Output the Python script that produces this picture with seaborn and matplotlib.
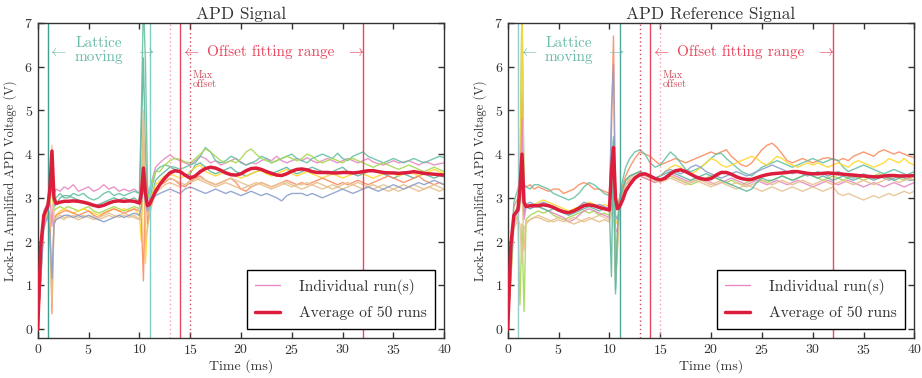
import numpy as np
import pandas as pd
import matplotlib
matplotlib.use("Agg")
import matplotlib.pyplot as plt
from matplotlib.lines import Line2D
import seaborn as sns

# ---------------- data ----------------
t = [0, 0.3, 0.6, 1.0, 1.2, 1.4, 1.6, 1.8, 2.2, 2.6,
     3, 3.5, 4, 4.5, 5, 5.5, 6, 6.5, 7, 7.5, 8, 8.5, 9, 9.5, 10,
     10.2, 10.4, 10.6, 10.8, 11, 11.3, 11.6,
     12, 12.5, 13, 13.5, 14, 14.5, 15, 15.5, 16, 16.5, 17, 17.5, 18, 18.5,
     19, 19.5, 20, 20.5, 21, 21.5, 22, 22.5, 23, 23.5, 24, 24.5, 25, 25.5,
     26, 26.5, 27, 27.5, 28, 28.5, 29, 29.5, 30, 30.5, 31, 31.5, 32, 32.5,
     33, 33.5, 34, 34.5, 35, 35.5, 36, 36.5, 37, 37.5, 38, 38.5, 39, 39.5, 40]

# ---- APD Signal: individual runs ----
sig_pink = [0, 1.6, 2.7, 2.9, 3.1, 2.35, 3.1, 3.2, 3.15, 3.25,
            3.2, 3.3, 3.15, 3.2, 3.25, 3.15, 3.2, 3.3, 3.2, 3.25, 3.15, 3.2, 3.15, 3.2, 3.1,
            3.4, 3.9, 3.2, 3.0, 3.2, 3.45, 3.7,
            3.8, 3.9, 3.98, 3.9, 3.85, 3.8, 3.75, 3.85, 3.95, 3.9, 3.8, 3.85, 3.75, 3.8,
            3.85, 3.9, 3.82, 3.75, 3.8, 3.78, 3.85, 3.9, 3.85, 3.95, 3.85, 3.8, 3.85, 3.9,
            3.85, 3.92, 3.85, 3.8, 3.85, 3.9, 3.85, 3.8, 3.85, 3.9, 3.85, 3.8, 3.85, 3.9,
            3.82, 3.78, 3.75, 3.8, 3.85, 3.8, 3.82, 3.85, 3.8, 3.75, 3.82, 3.8, 3.75, 3.78, 3.8]
sig_teal = [0, 1.4, 2.6, 2.8, 3.0, 3.9, 2.9, 3.0, 3.1, 3.0,
            3.0, 3.1, 3.05, 3.1, 3.0, 2.95, 3.0, 3.1, 3.15, 3.05, 3.1, 3.05, 3.1, 3.15, 3.1,
            5.0, 7.5, 6.1, 3.3, 2.9, 3.3, 3.6,
            3.7, 3.75, 3.72, 3.7, 3.65, 3.7, 3.75, 3.8, 3.95, 4.15, 4.05, 3.85, 3.8, 3.85,
            3.95, 3.9, 3.8, 3.75, 3.8, 3.85, 3.95, 3.9, 3.8, 3.85, 3.9, 3.95, 4.0, 3.9,
            3.85, 3.8, 3.9, 3.95, 4.0, 3.95, 3.9, 4.02, 3.9, 3.85, 3.95, 4.0, 4.05, 3.95,
            3.9, 3.85, 3.8, 3.85, 3.9, 3.85, 3.8, 3.85, 3.9, 3.85, 3.8, 3.85, 3.9, 3.95, 3.92]
sig_green = [0, 1.5, 2.6, 2.8, 3.0, 3.5, 2.7, 2.75, 2.8, 2.75,
             2.8, 2.75, 2.7, 2.75, 2.8, 2.7, 2.65, 2.7, 2.75, 2.8, 2.75, 2.7, 2.75, 2.8, 2.75,
             3.6, 4.4, 3.3, 3.0, 3.1, 3.4, 3.6,
             3.6, 3.75, 3.85, 3.9, 3.88, 3.82, 3.8, 3.9, 4.0, 4.12, 4.05, 3.95, 3.85, 3.8,
             3.85, 3.8, 3.9, 4.05, 4.12, 4.0, 3.9, 3.85, 3.8, 3.85, 3.9, 3.95, 3.9, 3.85,
             3.9, 4.0, 3.95, 3.85, 3.8, 3.85, 3.9, 3.85, 3.8, 3.88, 3.9, 3.85, 3.8, 3.75,
             3.7, 3.75, 3.8, 3.75, 3.7, 3.65, 3.7, 3.75, 3.7, 3.65, 3.6, 3.65, 3.7, 3.65, 3.6]
sig_teal2 = [0, 1.3, 2.5, 2.75, 2.9, 3.3, 2.8, 2.85, 3.0, 3.05,
             3.05, 3.0, 2.95, 2.9, 2.85, 2.8, 2.85, 2.9, 2.95, 3.0, 2.95, 3.0, 2.95, 3.0, 2.9,
             4.5, 6.2, 4.0, 2.9, 2.8, 3.1, 3.4,
             3.5, 3.6, 3.7, 3.65, 3.6, 3.5, 3.55, 3.75, 3.8, 3.7, 3.6, 3.55, 3.6, 3.65,
             3.7, 3.6, 3.55, 3.5, 3.55, 3.6, 3.65, 3.6, 3.55, 3.6, 3.65, 3.7, 3.6, 3.55,
             3.6, 3.65, 3.7, 3.65, 3.6, 3.55, 3.6, 3.65, 3.7, 3.6, 3.55, 3.5, 3.55, 3.6,
             3.65, 3.6, 3.55, 3.5, 3.45, 3.5, 3.55, 3.5, 3.45, 3.5, 3.55, 3.5, 3.45, 3.5, 3.48]
sig_yellow = [0, 1.2, 2.4, 2.7, 2.9, 3.7, 2.4, 2.6, 2.7, 2.75,
              2.7, 2.65, 2.7, 2.75, 2.7, 2.65, 2.6, 2.65, 2.7, 2.75, 2.7, 2.75, 2.7, 2.75, 2.6,
              2.0, 4.0, 1.5, 2.5, 2.8, 3.1, 3.3,
              3.4, 3.5, 3.55, 3.5, 3.45, 3.5, 3.6, 3.7, 3.75, 3.6, 3.55, 3.5, 3.55, 3.6,
              3.55, 3.5, 3.45, 3.5, 3.55, 3.6, 3.62, 3.55, 3.5, 3.55, 3.6, 3.65, 3.55, 3.5,
              3.55, 3.6, 3.55, 3.5, 3.45, 3.5, 3.55, 3.5, 3.45, 3.5, 3.55, 3.6, 3.55, 3.5,
              3.45, 3.5, 3.55, 3.6, 3.55, 3.5, 3.55, 3.6, 3.55, 3.5, 3.55, 3.6, 3.65, 3.6, 3.55]
sig_orange = [0, 1.2, 2.5, 2.75, 2.6, 0.35, 2.5, 2.6, 2.65, 2.7,
              2.7, 2.65, 2.6, 2.65, 2.7, 2.6, 2.55, 2.65, 2.7, 2.75, 2.7, 2.65, 2.7, 2.75, 2.7,
              2.5, 1.1, 3.6, 2.4, 2.8, 3.0, 3.2,
              3.3, 3.35, 3.45, 3.4, 3.3, 3.25, 3.35, 3.45, 3.5, 3.4, 3.35, 3.3, 3.35, 3.4,
              3.45, 3.35, 3.2, 3.15, 3.25, 3.3, 3.35, 3.3, 3.25, 3.3, 3.35, 3.4, 3.35, 3.3,
              3.35, 3.3, 3.35, 3.4, 3.45, 3.4, 3.35, 3.3, 3.35, 3.3, 3.35, 3.4, 3.35, 3.3,
              3.35, 3.4, 3.45, 3.5, 3.45, 3.4, 3.35, 3.4, 3.45, 3.5, 3.4, 3.35, 3.3, 3.35, 3.3]
sig_tan = [0, 1.3, 2.5, 2.8, 3.2, 4.2, 2.5, 2.55, 2.6, 2.55,
           2.55, 2.6, 2.55, 2.6, 2.55, 2.5, 2.55, 2.6, 2.65, 2.6, 2.55, 2.6, 2.55, 2.6, 2.5,
           3.5, 5.0, 3.0, 2.6, 2.7, 3.0, 3.2,
           3.3, 3.4, 3.45, 3.4, 3.35, 3.3, 3.35, 3.4, 3.45, 3.4, 3.35, 3.3, 3.35, 3.4,
           3.45, 3.4, 3.35, 3.3, 3.25, 3.3, 3.35, 3.3, 3.25, 3.3, 3.35, 3.3, 3.25, 3.3,
           3.3, 3.35, 3.3, 3.25, 3.2, 3.25, 3.3, 3.25, 3.2, 3.25, 3.3, 3.35, 3.3, 3.25,
           3.2, 3.25, 3.3, 3.25, 3.2, 3.15, 3.2, 3.25, 3.3, 3.25, 3.2, 3.25, 3.3, 3.25, 3.2]
sig_tan2 = [0, 1.2, 2.4, 2.7, 2.0, 0.6, 2.4, 2.5, 2.55, 2.5,
            2.6, 2.55, 2.5, 2.55, 2.6, 2.55, 2.5, 2.55, 2.6, 2.55, 2.6, 2.65, 2.6, 2.55, 2.5,
            2.6, 4.8, 2.0, 2.3, 2.6, 2.9, 3.1,
            3.2, 3.3, 3.35, 3.3, 3.25, 3.3, 3.4, 3.45, 3.4, 3.35, 3.3, 3.25, 3.3, 3.35,
            3.3, 3.25, 3.2, 3.25, 3.3, 3.35, 3.3, 3.25, 3.2, 3.25, 3.3, 3.35, 3.3, 3.25,
            3.2, 3.25, 3.3, 3.35, 3.3, 3.25, 3.2, 3.25, 3.3, 3.35, 3.3, 3.25, 3.2, 3.25,
            3.3, 3.25, 3.2, 3.15, 3.2, 3.25, 3.3, 3.25, 3.2, 3.15, 3.2, 3.25, 3.2, 3.15, 3.2]
sig_blue = [0, 1.1, 2.3, 2.6, 2.2, 1.15, 2.4, 2.5, 2.55, 2.6,
            2.6, 2.55, 2.6, 2.55, 2.6, 2.55, 2.5, 2.45, 2.5, 2.55, 2.6, 2.55, 2.6, 2.65, 2.6,
            2.8, 3.4, 2.9, 2.7, 2.8, 3.0, 3.05,
            3.1, 3.15, 3.2, 3.15, 3.1, 3.2, 3.25, 3.2, 3.15, 3.1, 3.15, 3.2, 3.15, 3.1,
            3.15, 3.1, 3.05, 3.1, 3.15, 3.1, 3.05, 3.1, 3.05, 3.0, 2.93, 3.05, 3.1, 3.1,
            3.1, 3.05, 3.1, 3.05, 3.0, 3.05, 3.1, 3.15, 3.2, 3.15, 3.1, 3.15, 3.2, 3.25,
            3.2, 3.15, 3.2, 3.25, 3.3, 3.25, 3.2, 3.25, 3.3, 3.35, 3.3, 3.35, 3.4, 3.35, 3.3]
sig_avg = [0, 1.9, 2.6, 2.82, 3.2, 4.07, 3.0, 2.87, 2.9, 2.92,
           2.92, 2.93, 2.92, 2.9, 2.87, 2.83, 2.8, 2.83, 2.88, 2.92, 2.93, 2.92, 2.93, 2.92, 2.88,
           3.1, 3.68, 3.1, 2.82, 2.85, 3.0, 3.15,
           3.3, 3.45, 3.57, 3.62, 3.6, 3.52, 3.45, 3.5, 3.6, 3.67, 3.7, 3.68, 3.63, 3.57,
           3.53, 3.52, 3.55, 3.62, 3.67, 3.68, 3.65, 3.6, 3.56, 3.52, 3.51, 3.55, 3.61, 3.65,
           3.66, 3.64, 3.6, 3.58, 3.58, 3.58, 3.57, 3.57, 3.58, 3.58, 3.57, 3.58, 3.6, 3.62,
           3.62, 3.6, 3.58, 3.57, 3.57, 3.56, 3.57, 3.58, 3.6, 3.58, 3.56, 3.55, 3.54, 3.53, 3.52]

# ---- APD Reference Signal: individual runs ----
ref_orange = [0, 1.4, 2.8, 3.0, 3.3, 5.4, 3.3, 3.25, 3.3, 3.2,
              3.25, 3.2, 3.15, 3.2, 3.2, 3.1, 3.15, 3.2, 3.3, 3.35, 3.3, 3.2, 3.2, 3.15, 3.1,
              4.5, 6.7, 3.0, 2.8, 3.0, 3.3, 3.5,
              3.7, 3.9, 4.05, 4.0, 3.95, 3.85, 3.75, 3.8, 3.85, 3.9, 3.85, 3.8, 3.85, 3.9,
              3.95, 4.0, 4.05, 4.0, 4.05, 4.1, 3.95, 3.85, 3.75, 3.72, 3.8, 3.95, 4.1, 4.2,
              4.25, 4.15, 4.0, 3.85, 3.8, 3.85, 3.9, 3.85, 3.8, 3.85, 3.9, 3.92, 3.88, 3.85,
              3.9, 3.85, 3.95, 4.0, 4.05, 4.0, 3.95, 4.05, 4.1, 4.05, 4.0, 4.05, 4.0, 3.95, 3.92]
ref_teal = [0, 1.5, 2.9, 3.2, 3.4, 7.5, 3.3, 3.25, 3.2, 3.3,
            3.3, 3.25, 3.2, 3.1, 3.05, 3.0, 2.95, 3.0, 3.1, 3.25, 3.35, 3.3, 3.2, 3.1, 3.05,
            3.5, 4.4, 0.8, 2.0, 3.0, 3.4, 3.7,
            3.9, 4.05, 4.1, 4.0, 3.8, 3.7, 3.75, 3.9, 4.05, 3.95, 3.8, 3.65, 3.6, 3.65,
            3.7, 3.8, 3.9, 4.0, 4.02, 3.9, 3.8, 3.7, 3.6, 3.55, 3.5, 3.6, 3.7, 3.75,
            3.8, 3.85, 3.8, 3.75, 3.7, 3.75, 3.8, 3.85, 3.9, 3.85, 3.8, 3.85, 3.9, 3.85,
            3.7, 3.6, 3.65, 3.7, 3.75, 3.7, 3.65, 3.6, 3.55, 3.6, 3.65, 3.6, 3.55, 3.5, 3.5]
ref_yellow = [0, 1.3, 2.6, 2.8, 3.0, 7.5, 2.8, 2.85, 2.8, 2.85,
              2.9, 2.95, 2.9, 2.85, 2.8, 2.75, 2.7, 2.75, 2.8, 2.85, 2.9, 2.85, 2.8, 2.85, 2.8,
              3.8, 4.0, 2.5, 2.4, 2.9, 3.2, 3.4,
              3.5, 3.55, 3.6, 3.55, 3.5, 3.45, 3.5, 3.6, 3.7, 3.75, 3.7, 3.6, 3.55, 3.6,
              3.7, 3.8, 3.9, 3.85, 3.75, 3.7, 3.75, 3.8, 3.85, 3.9, 3.95, 3.9, 3.8, 3.75,
              3.85, 3.95, 3.9, 3.8, 3.75, 3.7, 3.75, 3.8, 3.75, 3.8, 3.75, 3.7, 3.75, 3.8,
              3.75, 3.7, 3.8, 3.85, 3.8, 3.75, 3.7, 3.75, 3.8, 3.9, 3.85, 3.8, 3.9, 3.8, 3.75]
ref_blue = [0, 1.3, 2.6, 2.8, 3.0, 3.8, 2.6, 2.85, 2.9, 2.85,
            2.85, 2.9, 2.85, 2.8, 2.75, 2.7, 2.65, 2.7, 2.8, 2.9, 2.85, 2.8, 2.85, 2.8, 2.75,
            5.0, 6.05, 2.6, 2.5, 2.9, 3.2, 3.4,
            3.5, 3.55, 3.6, 3.55, 3.5, 3.45, 3.5, 3.6, 3.65, 3.6, 3.55, 3.6, 3.7, 3.75,
            3.7, 3.6, 3.55, 3.5, 3.45, 3.5, 3.55, 3.6, 3.55, 3.5, 3.55, 3.6, 3.65, 3.7,
            3.75, 3.7, 3.65, 3.6, 3.55, 3.6, 3.55, 3.5, 3.55, 3.6, 3.55, 3.5, 3.55, 3.6,
            3.55, 3.5, 3.45, 3.5, 3.55, 3.5, 3.45, 3.5, 3.45, 3.4, 3.45, 3.5, 3.45, 3.4, 3.4]
ref_green = [0, 1.2, 2.4, 2.6, 0.55, 2.4, 0.4, 2.5, 2.6, 2.65,
             2.7, 2.65, 2.7, 2.6, 2.55, 2.5, 2.55, 2.6, 2.65, 2.7, 2.65, 2.7, 2.6, 2.65, 2.6,
             2.8, 3.0, 1.6, 2.2, 2.8, 3.1, 3.3,
             3.4, 3.45, 3.5, 3.45, 3.4, 3.35, 3.4, 3.45, 3.5, 3.45, 3.4, 3.35, 3.3, 3.35,
             3.4, 3.45, 3.5, 3.45, 3.4, 3.35, 3.4, 3.35, 3.3, 3.35, 3.4, 3.45, 3.4, 3.35,
             3.4, 3.45, 3.5, 3.45, 3.4, 3.45, 3.5, 3.55, 3.5, 3.45, 3.4, 3.45, 3.5, 3.45,
             3.4, 3.45, 3.5, 3.45, 3.4, 3.45, 3.5, 3.55, 3.5, 3.45, 3.5, 3.45, 3.4, 3.45, 3.4]
ref_pink = [0, 1.2, 2.5, 2.7, 3.0, 4.8, 2.5, 2.8, 2.75, 2.8,
            2.8, 2.75, 2.7, 2.65, 2.6, 2.55, 2.45, 2.5, 2.6, 2.7, 2.75, 2.7, 2.65, 2.6, 2.55,
            3.5, 4.2, 2.3, 2.2, 2.8, 3.1, 3.3,
            3.4, 3.45, 3.5, 3.45, 3.4, 3.35, 3.4, 3.5, 3.55, 3.5, 3.45, 3.4, 3.35, 3.4,
            3.45, 3.4, 3.35, 3.3, 3.35, 3.4, 3.45, 3.4, 3.35, 3.3, 3.35, 3.4, 3.35, 3.3,
            3.35, 3.4, 3.35, 3.3, 3.35, 3.4, 3.35, 3.3, 3.25, 3.3, 3.35, 3.4, 3.35, 3.3,
            3.35, 3.4, 3.35, 3.3, 3.25, 3.3, 3.35, 3.3, 3.25, 3.3, 3.35, 3.3, 3.25, 3.3, 3.35]
ref_tan = [0, 1.1, 2.3, 2.5, 2.4, 1.5, 2.3, 2.4, 2.5, 2.55,
           2.6, 2.55, 2.5, 2.45, 2.5, 2.45, 2.5, 2.55, 2.5, 2.45, 2.5, 2.55, 2.6, 2.55, 2.5,
           2.6, 3.0, 1.1, 1.8, 2.7, 3.1, 3.3,
           3.4, 3.5, 3.55, 3.5, 3.45, 3.4, 3.35, 3.4, 3.45, 3.4, 3.35, 3.3, 3.35, 3.4,
           3.35, 3.3, 3.25, 3.3, 3.35, 3.3, 3.25, 3.2, 3.25, 3.3, 3.25, 3.2, 3.15, 3.2,
           3.25, 3.2, 3.15, 3.2, 3.25, 3.2, 3.15, 3.2, 3.25, 3.2, 3.15, 3.2, 3.25, 3.1,
           3.05, 3.1, 3.05, 3.0, 2.95, 3.0, 3.05, 3.0, 3.05, 3.1, 3.05, 3.1, 3.15, 3.1, 3.15]
ref_tan2 = [0, 1.2, 2.4, 2.6, 2.8, 3.2, 1.8, 2.45, 2.5, 2.55,
            2.55, 2.5, 2.45, 2.5, 2.55, 2.5, 2.45, 2.4, 2.45, 2.5, 2.55, 2.5, 2.45, 2.5, 2.45,
            3.2, 4.0, 1.3, 2.0, 2.7, 3.1, 3.3,
            3.45, 3.55, 3.6, 3.55, 3.5, 3.45, 3.4, 3.45, 3.5, 3.45, 3.4, 3.35, 3.4, 3.45,
            3.4, 3.35, 3.3, 3.35, 3.4, 3.35, 3.3, 3.35, 3.3, 3.25, 3.3, 3.35, 3.4, 3.35,
            3.3, 3.35, 3.4, 3.35, 3.3, 3.35, 3.4, 3.35, 3.3, 3.35, 3.4, 3.35, 3.3, 3.35,
            3.4, 3.35, 3.3, 3.35, 3.4, 3.35, 3.3, 3.35, 3.4, 3.45, 3.4, 3.35, 3.4, 3.45, 3.4]
ref_teal2 = [0, 1.3, 2.6, 2.8, 2.9, 4.0, 2.9, 2.8, 2.75, 2.8,
             2.8, 2.75, 2.7, 2.75, 2.7, 2.65, 2.6, 2.65, 2.7, 2.75, 2.8, 2.75, 2.7, 2.75, 2.7,
             1.2, 4.3, 0.9, 2.3, 2.9, 3.2, 3.4,
             3.5, 3.55, 3.6, 3.55, 3.5, 3.45, 3.5, 3.55, 3.6, 3.55, 3.5, 3.45, 3.4, 3.45,
             3.5, 3.55, 3.5, 3.45, 3.4, 3.35, 3.3, 3.25, 3.2, 3.15, 3.2, 3.35, 3.45, 3.4,
             3.4, 3.45, 3.5, 3.45, 3.4, 3.45, 3.5, 3.55, 3.5, 3.45, 3.5, 3.45, 3.4, 3.45,
             3.5, 3.45, 3.4, 3.45, 3.5, 3.45, 3.4, 3.45, 3.5, 3.45, 3.4, 3.45, 3.5, 3.55, 3.6]
ref_avg = [0, 1.9, 2.6, 2.72, 3.2, 4.0, 2.9, 2.8, 2.82, 2.82,
           2.82, 2.84, 2.82, 2.78, 2.72, 2.68, 2.66, 2.7, 2.76, 2.82, 2.84, 2.82, 2.78, 2.75, 2.72,
           3.6, 4.15, 3.0, 2.75, 2.8, 2.95, 3.15,
           3.3, 3.45, 3.53, 3.55, 3.5, 3.44, 3.41, 3.45, 3.55, 3.62, 3.64, 3.6, 3.54, 3.48,
           3.44, 3.42, 3.44, 3.52, 3.58, 3.58, 3.54, 3.48, 3.44, 3.42, 3.42, 3.46, 3.5, 3.53,
           3.55, 3.56, 3.57, 3.58, 3.6, 3.6, 3.58, 3.56, 3.55, 3.55, 3.56, 3.57, 3.56, 3.55,
           3.54, 3.53, 3.52, 3.51, 3.5, 3.49, 3.48, 3.48, 3.5, 3.51, 3.51, 3.5, 3.5, 3.5, 3.51]

run_colors = {"pink": "#e78ac3", "teal": "#66c2a5", "green": "#a6d854",
              "teal2": "#5fb8a0", "yellow": "#ffd92f", "orange": "#fc8d62",
              "tan": "#e5c494", "tan2": "#e8be88", "blue": "#8da0cb"}

sig_runs = {"pink": sig_pink, "teal": sig_teal, "green": sig_green, "teal2": sig_teal2,
            "yellow": sig_yellow, "orange": sig_orange, "tan": sig_tan,
            "tan2": sig_tan2, "blue": sig_blue}
ref_runs = {"orange": ref_orange, "teal": ref_teal, "yellow": ref_yellow, "blue": ref_blue,
            "green": ref_green, "pink": ref_pink, "tan": ref_tan, "tan2": ref_tan2,
            "teal2": ref_teal2}

titles = ["APD Signal", "APD Reference Signal"]
legend_labels = ["Individual run(s)", "Average of 50 runs"]

# ---------------- style ----------------
sns.set_style("ticks")
plt.rcParams.update({
    "font.family": ["cmr10", "DejaVu Serif"],
    "mathtext.fontset": "cm",
    "axes.formatter.use_mathtext": True,
    "axes.unicode_minus": False,
    "xtick.direction": "in", "ytick.direction": "in",
    "xtick.top": True, "ytick.right": True,
    "xtick.major.size": 4, "ytick.major.size": 4,
    "axes.edgecolor": "#333333", "axes.linewidth": 1.0,
    "xtick.color": "#333333", "ytick.color": "#333333",
    "text.color": "#333333", "axes.labelcolor": "#333333",
})

AVG = "#dc1e3c"
RED = "#e8475f"
TEAL_TXT = "#6bbcab"

fig = plt.figure(figsize=(9.22, 3.78), dpi=100)
ax1 = fig.add_axes([0.0409, 0.1066, 0.441, 0.8326])
ax2 = fig.add_axes([0.5507, 0.1066, 0.441, 0.8326])

panels = [(ax1, sig_runs, sig_avg, ("#3f9e8e", "#7fcfc7"), ("#f2a0ad", "#d44a5a")),
          (ax2, ref_runs, ref_avg, ("#9cc9c9", "#4fa595"), ("#d44a5a", "#f2a0ad"))]

for i, (ax, runs, avg, teal_cols, dot_cols) in enumerate(panels):
    for name, vals in runs.items():
        assert len(vals) == len(t), (name, len(vals))
    df = pd.DataFrame({
        "time": np.tile(t, len(runs)),
        "voltage": np.concatenate([runs[k] for k in runs]),
        "run": np.repeat(list(runs.keys()), len(t)),
    })
    sns.lineplot(data=df, x="time", y="voltage", hue="run", palette=run_colors,
                 estimator=None, sort=False, legend=False, linewidth=1.0,
                 alpha=0.9, ax=ax, zorder=2)
    # markers
    ax.axvline(1, color=teal_cols[0], lw=1.0, zorder=2.5)
    ax.axvline(11, color=teal_cols[1], lw=1.0, zorder=2.5)
    ax.axvline(13, color=dot_cols[0], lw=1.0, ls=(0, (1, 2)), zorder=2.5)
    ax.axvline(15, color=dot_cols[1], lw=1.0, ls=(0, (1, 2)), zorder=2.5)
    ax.axvline(14, color=RED, lw=1.0, zorder=2.5)
    ax.axvline(32, color=RED, lw=1.0, zorder=2.5)
    sns.lineplot(x=t, y=avg, color=AVG, linewidth=2.5, ax=ax, zorder=3)

    ax.set_xlim(0, 40)
    ax.set_ylim(-0.2, 7)
    ax.set_xticks(range(0, 41, 5))
    ax.set_yticks(range(0, 8))
    ax.tick_params(labelsize=10, width=1.0)
    ax.set_title(titles[i], fontsize=12.5, pad=3)
    ax.set_xlabel("Time (ms)", fontsize=10, labelpad=2)
    ax.set_ylabel("Lock-In Amplified APD Voltage (V)", fontsize=9, labelpad=5)

    # annotations
    ax.text(6.0, 6.38, "Lattice\nmoving", color=TEAL_TXT, fontsize=11,
            ha="center", va="center", linespacing=0.95)
    ax.text(2.0, 6.34, r"$\leftarrow$", color=TEAL_TXT, fontsize=11, ha="center", va="center")
    ax.text(10.6, 6.34, r"$\rightarrow$", color=TEAL_TXT, fontsize=11, ha="center", va="center")
    ax.text(15.0, 6.34, r"$\leftarrow$", color=RED, fontsize=11, ha="center", va="center")
    ax.text(22.9, 6.34, "Offset fitting range", color=RED, fontsize=11,
            ha="center", va="center")
    ax.text(31.3, 6.34, r"$\rightarrow$", color=RED, fontsize=11, ha="center", va="center")
    ax.text(15.25, 5.7, "Max\noffset", color="#c8505a", fontsize=7.5,
            ha="left", va="center", linespacing=1.0)

    handles = [Line2D([], [], color="#e78ac3", lw=1.0),
               Line2D([], [], color=AVG, lw=2.5)]
    leg = ax.legend(handles, legend_labels, loc="lower right",
                    bbox_to_anchor=(0.977, 0.028), borderaxespad=0,
                    fontsize=11.2, fancybox=False, frameon=True,
                    edgecolor="black", handlelength=1.6, handletextpad=1.2,
                    borderpad=0.55, labelspacing=0.75)
    leg.get_frame().set_linewidth(1.0)
    leg.get_frame().set_alpha(1.0)

fig.savefig("out.png", dpi=100)
